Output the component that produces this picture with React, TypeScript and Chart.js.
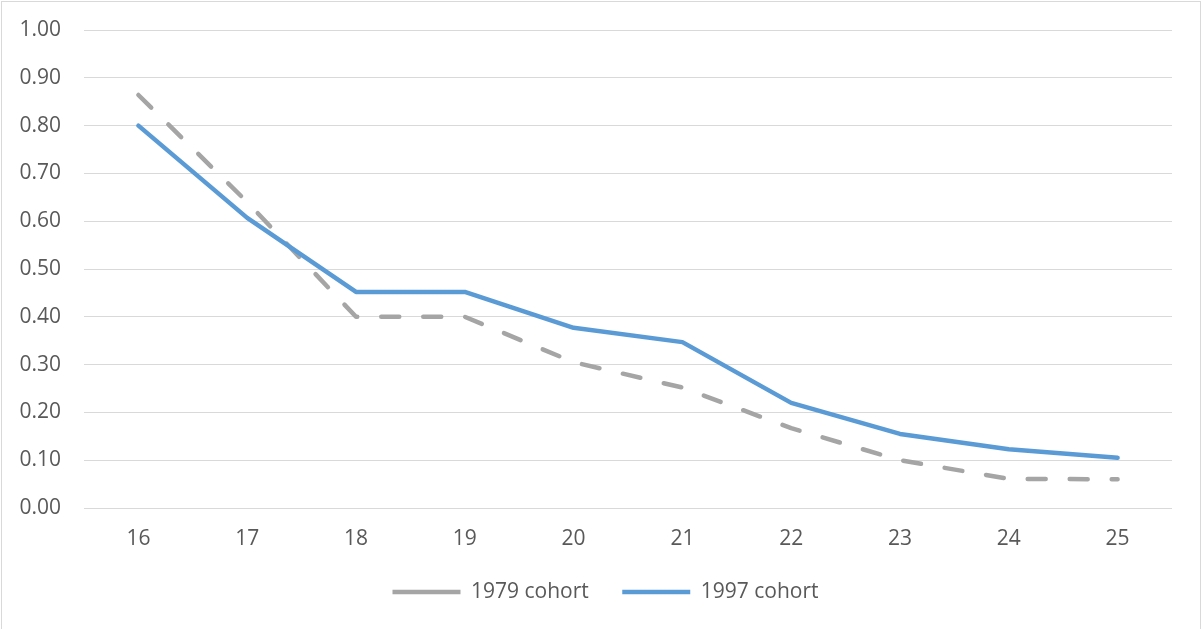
import React, { useEffect, useRef } from "react";
import { Chart, registerables } from "chart.js";

Chart.register(...registerables);

const ages = ["16", "17", "18", "19", "20", "21", "22", "23", "24", "25"];
const cohort1979 = [0.864, 0.64, 0.4, 0.4, 0.305, 0.252, 0.167, 0.1, 0.061, 0.06];
const cohort1997 = [0.8, 0.607, 0.452, 0.452, 0.377, 0.347, 0.22, 0.155, 0.123, 0.105];
const seriesNames = ["1979 cohort", "1997 cohort"];

const FONT = { family: "'Open Sans', sans-serif", size: 21 };
const TEXT = "#595959";
const GRID = "#d9d9d9";

export default function App() {
  const ref = useRef<HTMLCanvasElement | null>(null);

  useEffect(() => {
    document.body.style.margin = "0";
    const canvas = ref.current;
    if (!canvas) return;
    const chart = new Chart(canvas, {
      type: "line",
      data: {
        labels: ages,
        datasets: [
          {
            label: seriesNames[0],
            data: cohort1979,
            borderColor: "#a5a5a5",
            backgroundColor: "#a5a5a5",
            borderWidth: 4.5,
            borderDash: [18, 24],
            borderCapStyle: "round",
            borderJoinStyle: "round",
            pointRadius: 0,
            tension: 0,
            order: 1,
          },
          {
            label: seriesNames[1],
            data: cohort1997,
            borderColor: "#5b9bd5",
            backgroundColor: "#5b9bd5",
            borderWidth: 4.5,
            borderCapStyle: "round",
            borderJoinStyle: "round",
            pointRadius: 0,
            tension: 0,
            order: 0,
          },
        ],
      },
      options: {
        animation: false,
        responsive: false,
        maintainAspectRatio: false,
        layout: { padding: { top: 28, right: 6, bottom: 16.5, left: 15 } },
        plugins: {
          tooltip: { enabled: false },
          legend: {
            position: "bottom",
            labels: {
              usePointStyle: true,
              pointStyle: "line",
              pointStyleWidth: 68,
              boxHeight: 20,
              padding: 33.5,
              color: TEXT,
              font: FONT,
              sort: (a: any, b: any) => a.datasetIndex - b.datasetIndex,
            },
          },
        },
        scales: {
          x: {
            offset: true,
            grid: { display: false, drawTicks: false },
            border: { display: false },
            ticks: { color: TEXT, font: FONT, padding: 18.4, maxRotation: 0 },
            afterFit: (s: any) => {
              s.height = 40;
            },
          },
          y: {
            min: 0,
            max: 1,
            grid: {
              color: GRID,
              lineWidth: 1,
              drawTicks: true,
              tickLength: 23,
              tickColor: "rgba(0,0,0,0)",
            },
            border: { display: false },
            ticks: {
              stepSize: 0.1,
              color: TEXT,
              font: FONT,
              padding: 0,
              callback: (v: any) => Number(v).toFixed(2),
            },
            afterFit: (s: any) => {
              s.width = 67;
            },
          },
          yRight: {
            position: "right",
            display: true,
            grid: { display: false, drawTicks: false },
            border: { display: false },
            ticks: { display: false },
            afterFit: (s: any) => {
              s.width = 22;
            },
          },
        },
      },
    });
    return () => chart.destroy();
  }, []);

  return (
    <div
      style={{
        position: "fixed",
        left: 0,
        top: 0,
        width: 1202,
        height: 629,
        overflow: "hidden",
        background: "#fff",
      }}
    >
      <div
        style={{
          position: "absolute",
          left: 1,
          top: 1,
          width: 1198,
          height: 660,
          border: "1px solid #d9d9d9",
          background: "#fff",
        }}
      >
        <canvas ref={ref} width={1198} height={627} style={{ display: "block" }} />
      </div>
    </div>
  );
}
